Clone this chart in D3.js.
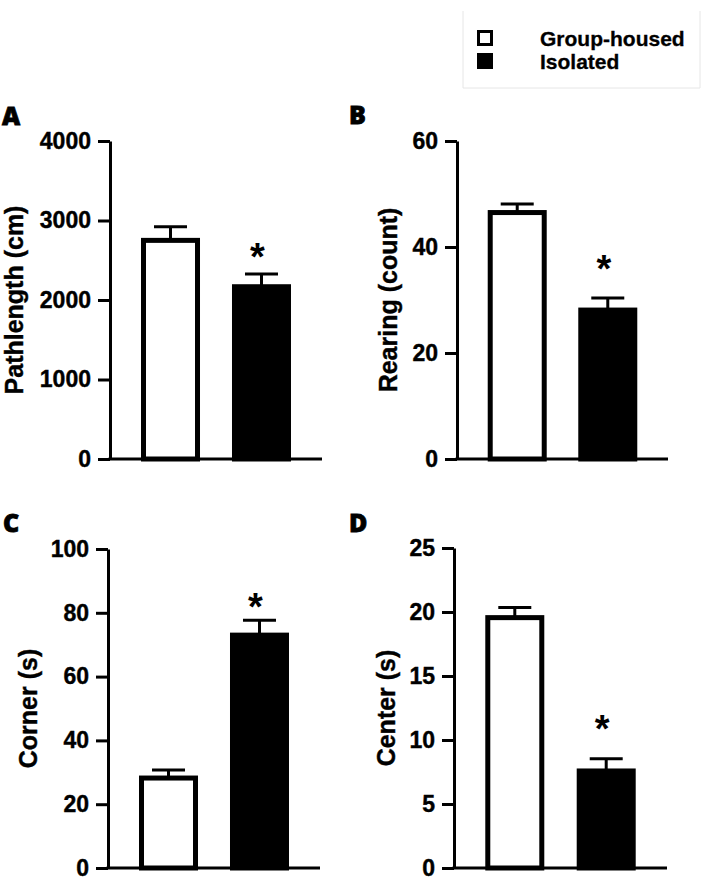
<!DOCTYPE html>
<html>
<head>
<meta charset="utf-8">
<script src="https://cdn.jsdelivr.net/npm/d3@7"></script>
<style>
  body { margin: 0; background: #fff; }
  svg { display: block; font-family: "Liberation Sans", Arial, sans-serif; font-weight: bold; }
</style>
</head>
<body>
<div id="chart"></div>
<script>
// data
var groups = ['Group-housed', 'Isolated'];

var pathMean = [2750, 2167];
var pathSem = [170, 160];
var pathTicks = [0, 1000, 2000, 3000, 4000];

var rearMean = [46.5, 28.1];
var rearSem = [1.6, 2.3];
var rearTicks = [0, 20, 40, 60];

var cornerMean = [28.2, 73.0];
var cornerSem = [2.5, 4.7];
var cornerTicks = [0, 20, 40, 60, 80, 100];

var centerMean = [19.56, 7.58];
var centerSem = [0.8, 0.95];
var centerTicks = [0, 5, 10, 15, 20, 25];

// where the * sits (in axis units), only on the isolated bar
var starAt = [2630, 37.2, 84, 11.4];

var W = 701, H = 888;
var svg = d3.select('#chart').append('svg').attr('width', W).attr('height', H);

// panel layout
var panels = [
    { letter: 'A', title: 'Pathlength (cm)', mean: pathMean, sem: pathSem, ticks: pathTicks,
      x0: 110, x1: 322, y0: 141, y1: 459, titleX: 23, lx: 2, ly: 125 },
    { letter: 'B', title: 'Rearing (count)', mean: rearMean, sem: rearSem, ticks: rearTicks,
      x0: 457, x1: 668, y0: 141, y1: 459, titleX: 397, lx: 349, ly: 124 },
    { letter: 'C', title: 'Corner (s)', mean: cornerMean, sem: cornerSem, ticks: cornerTicks,
      x0: 108, x1: 320, y0: 549, y1: 868, titleX: 37, lx: 3, ly: 532 },
    { letter: 'D', title: 'Center (s)', mean: centerMean, sem: centerSem, ticks: centerTicks,
      x0: 454, x1: 667, y0: 548, y1: 868, titleX: 395, lx: 349, ly: 532 }
];

panels.forEach(function(p, pi) {
    var g = svg.append('g');
    var yMax = d3.max(p.ticks);
    var y = d3.scaleLinear().domain([0, yMax]).range([p.y1, p.y0]);
    var x = d3.scalePoint().domain(groups).range([p.x0, p.x1]).padding(0.665);
    var barW = 54;
    var capW = 33;

    // bars
    g.selectAll('rect.bar')
        .data(groups)
        .enter()
        .append('rect')
        .attr('class', 'bar')
        .attr('x', function(d) { return x(d) - barW / 2; })
        .attr('y', function(d, i) { return y(p.mean[i]); })
        .attr('width', barW)
        .attr('height', function(d, i) { return p.y1 - y(p.mean[i]); })
        .attr('fill', function(d, i) { return i === 0 ? '#fff' : '#000'; })
        .attr('stroke', '#000')
        .attr('stroke-width', 5);

    // error bars (upper only)
    g.selectAll('line.stem')
        .data(groups)
        .enter()
        .append('line')
        .attr('x1', function(d) { return x(d); })
        .attr('x2', function(d) { return x(d); })
        .attr('y1', function(d, i) { return y(p.mean[i]); })
        .attr('y2', function(d, i) { return y(p.mean[i] + p.sem[i]); })
        .attr('stroke', '#000')
        .attr('stroke-width', 3);
    g.selectAll('line.cap')
        .data(groups)
        .enter()
        .append('line')
        .attr('x1', function(d) { return x(d) - capW / 2; })
        .attr('x2', function(d) { return x(d) + capW / 2; })
        .attr('y1', function(d, i) { return y(p.mean[i] + p.sem[i]); })
        .attr('y2', function(d, i) { return y(p.mean[i] + p.sem[i]); })
        .attr('stroke', '#000')
        .attr('stroke-width', 3);

    // asterisk
    g.append('text')
        .attr('x', x(groups[1]) - 4)
        .attr('y', y(starAt[pi]) + 20)
        .attr('text-anchor', 'middle')
        .style('font-size', '38px')
        .text('*');

    // y axis
    var axis = d3.axisLeft(y).tickValues(p.ticks).tickSize(12).tickSizeOuter(0).tickPadding(7)
        .tickFormat(d3.format('d'));
    var ag = g.append('g').attr('transform', 'translate(' + p.x0 + ',0)').call(axis);
    ag.select('.domain').attr('stroke-width', 3).attr('stroke', '#000');
    ag.selectAll('.tick line').attr('stroke-width', 3).attr('stroke', '#000');
    ag.selectAll('.tick text')
        .attr('fill', '#000')
        .attr('stroke', '#000')
        .attr('stroke-width', 0.4)
        .style('font-family', '"Liberation Sans", Arial, sans-serif')
        .style('font-weight', 'bold')
        .style('font-size', '23px');

    // x axis baseline
    g.append('line')
        .attr('x1', p.x0 - 1.5).attr('x2', p.x1)
        .attr('y1', p.y1).attr('y2', p.y1)
        .attr('stroke', '#000').attr('stroke-width', 3);

    // axis title
    g.append('text')
        .attr('transform', 'translate(' + p.titleX + ',' + ((p.y0 + p.y1) / 2) + ') rotate(-90)')
        .attr('text-anchor', 'middle')
        .attr('stroke', '#000')
        .attr('stroke-width', 0.4)
        .style('font-size', '25px')
        .text(p.title);

    // panel letter
    g.append('text')
        .attr('x', p.lx).attr('y', p.ly)
        .attr('stroke', '#000')
        .attr('stroke-width', 0.8)
        .style('font-family', '"Open Sans", "Liberation Sans", sans-serif')
        .style('font-weight', 800)
        .style('font-size', '25px')
        .text(p.letter);
});

// legend
var leg = svg.append('g');
leg.append('path')
    .attr('d', 'M463,11V88H700V11')
    .attr('fill', 'none')
    .attr('stroke', '#e6e6e6')
    .attr('stroke-width', 1);
leg.selectAll('rect')
    .data(groups)
    .enter()
    .append('rect')
    .attr('x', 478.5)
    .attr('y', function(d, i) { return 31.5 + i * 23; })
    .attr('width', 13)
    .attr('height', 13)
    .attr('fill', function(d, i) { return i === 0 ? '#fff' : '#000'; })
    .attr('stroke', '#000')
    .attr('stroke-width', 3);
leg.selectAll('text')
    .data(groups)
    .enter()
    .append('text')
    .attr('x', 540)
    .attr('y', function(d, i) { return 46 + i * 23; })
    .attr('stroke', '#000')
    .attr('stroke-width', 0.3)
    .style('font-size', '21px')
    .text(function(d) { return d; });
</script>
</body>
</html>
